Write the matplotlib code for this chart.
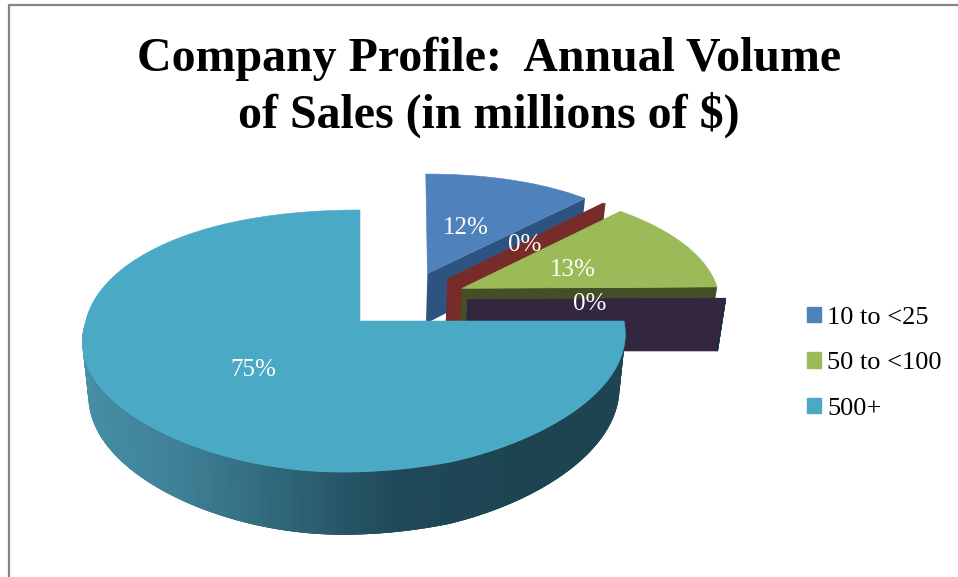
import matplotlib
matplotlib.use("Agg")
import matplotlib.pyplot as plt
from matplotlib.colors import LinearSegmentedColormap
from matplotlib.patches import Patch
import numpy as np

plt.rcParams['font.family'] = ['Liberation Serif', 'DejaVu Serif']

title = "Company Profile:  Annual Volume\nof Sales (in millions of $)"
categories = ["10 to <25", "25 to <50", "50 to <100", "100 to <500", "500+"]
shares = [12.0, 0.2, 12.6, 0.2, 75.0]
legend_labels = ["10 to <25", "50 to <100", "500+"]

top_colors = ["#4f81bd", "#772c2a", "#9bbb59", "#33273f", "#4aaac5"]
side_colors = ["#2d5380", "#772c2a", "#444f25", "#33273f", "#1f4552"]
label_xy = [(466, 228), (525, 245), (573, 270), (590, 304), (253, 370)]

# pie geometry, in pixels of the final image
APEX_X, APEX_Y = 360, 321
RX_RIGHT, RX_LEFT, RY = 264, 274, 128
PERSP_X, PERSP_Y = 0.10, 0.153
DEPTH = 53
EXPLODE = 0.24

arc_shade = LinearSegmentedColormap.from_list(
    "arc", ["#4690a8", "#3f8298", "#2f6678", "#1f4859", "#1d4450", "#1d4450"])


def project(u, v, drop=0.0):
    """Unit disc coordinates to image pixels, with a rough perspective."""
    u = np.asarray(u, dtype=float)
    v = np.asarray(v, dtype=float)
    rx = np.where(u < 0, RX_LEFT, RX_RIGHT)
    x = rx * u / (1 + PERSP_X * v * np.minimum(np.abs(u), 1))
    # front of the disc leans left, fading out towards the right side
    x = x + 18 * np.minimum(v, 0) * np.clip(1 - 3 * u, 0, 1)
    x = APEX_X + x * (1 - 0.022 * drop / DEPTH)
    y = APEX_Y + (drop - RY * v) / (1 + PERSP_Y * v)
    return x, y


def direction(deg):
    rad = np.radians(deg)
    return np.sin(rad), np.cos(rad)


def face(ax, us, vs, color):
    x0, y0 = project(us, vs)
    x1, y1 = project(us, vs, DEPTH)
    ax.fill(np.r_[x0, x1[::-1]], np.r_[y0, y1[::-1]],
            color=color, lw=0, zorder=2)


fig = plt.figure(figsize=(9.58, 5.77), dpi=100)
ax = fig.add_axes([0, 0, 1, 1])
ax.set_xlim(0, 958)
ax.set_ylim(577, 0)
ax.axis("off")

# chart area border, only top and left are in the crop
ax.plot([9, 9, 958], [577, 5, 5], color="#868686", lw=1.6, solid_joinstyle="miter")

ends = np.cumsum(shares) * 3.6
starts = ends - np.array(shares) * 3.6
mids = (starts + ends) / 2
ref_dir = np.array(direction(mids[-1]))

for i in range(len(shares)):
    off_u, off_v = EXPLODE * (np.array(direction(mids[i])) - ref_dir)
    angles = np.linspace(starts[i], ends[i], 200)
    arc_u, arc_v = direction(angles)
    arc_u = arc_u + off_u
    arc_v = arc_v + off_v

    # radial walls, the first slice's start wall faces away
    if i > 0:
        face(ax, np.array([off_u, arc_u[0]]), np.array([off_v, arc_v[0]]), side_colors[i])
    face(ax, np.array([off_u, arc_u[-1]]), np.array([off_v, arc_v[-1]]), side_colors[i])

    # outer wall, front half only, overlapping strips so no seams show
    for j in range(len(angles) - 1):
        if np.cos(np.radians(angles[j])) > 0.02:
            continue
        shade = arc_shade((arc_u[j] + 1) / 2)
        face(ax, arc_u[j:j + 4], arc_v[j:j + 4], shade)

    # top
    xt, yt = project(np.r_[off_u, arc_u], np.r_[off_v, arc_v])
    ax.fill(xt, yt, color=top_colors[i], lw=0.4, zorder=2)

    ax.text(label_xy[i][0], label_xy[i][1], f"{round(shares[i])}%", color="white",
            fontsize=18, ha="center", va="center", zorder=5)

ax.text(489, 87, title, fontsize=34.5, fontweight="bold", ha="center", va="center",
        linespacing=1.29, color="black")

handles = [Patch(color=top_colors[categories.index(lab)], label=lab) for lab in legend_labels]
ax.legend(handles=handles, loc="upper left", bbox_to_anchor=(799, 299),
          bbox_transform=ax.transData, frameon=False, fontsize=19,
          handlelength=0.53, handleheight=0.53, handletextpad=0.23,
          labelspacing=0.88, borderpad=0.3, borderaxespad=0)

fig.savefig("out.png", dpi=100)
